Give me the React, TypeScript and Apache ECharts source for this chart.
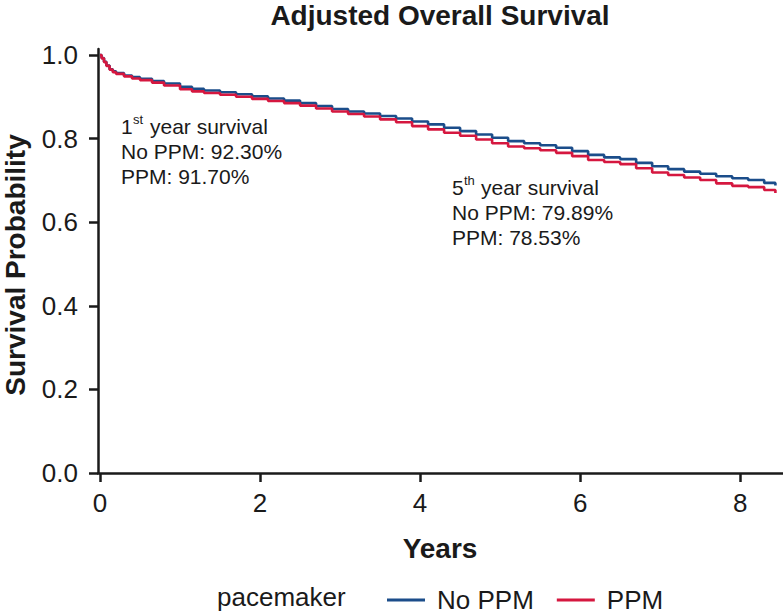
import React, { useEffect, useRef } from "react";
import * as echarts from "echarts";

const years = [0, 0.02, 0.05, 0.08, 0.12, 0.16, 0.2, 0.3, 0.4, 0.5, 0.65, 0.8, 1.0, 1.15, 1.3, 1.5, 1.7, 1.9, 2.1, 2.3, 2.5, 2.7, 2.9, 3.1, 3.3, 3.5, 3.7, 3.9, 4.1, 4.3, 4.5, 4.7, 4.9, 5.1, 5.3, 5.5, 5.7, 5.9, 6.1, 6.3, 6.5, 6.7, 6.9, 7.1, 7.3, 7.5, 7.7, 7.9, 8.1, 8.3, 8.44];

const noPPM = [1.0, 0.993, 0.984, 0.975, 0.966, 0.961, 0.957, 0.951, 0.947, 0.943, 0.938, 0.932, 0.924, 0.919, 0.915, 0.911, 0.906, 0.901, 0.896, 0.891, 0.885, 0.878, 0.871, 0.865, 0.86, 0.854, 0.848, 0.841, 0.834, 0.826, 0.818, 0.81, 0.802, 0.794, 0.789, 0.784, 0.778, 0.77, 0.761, 0.755, 0.751, 0.742, 0.734, 0.727, 0.721, 0.716, 0.71, 0.705, 0.701, 0.694, 0.688];

const ppm = [1.0, 0.992, 0.983, 0.974, 0.965, 0.959, 0.955, 0.949, 0.944, 0.94, 0.934, 0.927, 0.918, 0.913, 0.909, 0.905, 0.9, 0.895, 0.89, 0.885, 0.879, 0.872, 0.865, 0.859, 0.853, 0.846, 0.839, 0.83, 0.822, 0.814, 0.807, 0.798, 0.789, 0.781, 0.777, 0.772, 0.766, 0.758, 0.749, 0.744, 0.739, 0.729, 0.719, 0.713, 0.707, 0.701, 0.693, 0.687, 0.684, 0.677, 0.67];

const xTicks = [0, 2, 4, 6, 8];
const yTicks = [0, 0.2, 0.4, 0.6, 0.8, 1.0];
const seriesNames = ["No PPM", "PPM"];
const seriesColors = ["#1B4D8A", "#D5173F"];

const title = "Adjusted Overall Survival";
const xTitle = "Years";
const yTitle = "Survival Probability";
const legendTitle = "pacemaker";
const year1Lines = ["No PPM: 92.30%", "PPM: 91.70%"];
const year5Lines = ["No PPM: 79.89%", "PPM: 78.53%"];

const FONT = "Liberation Sans, Arial, Helvetica, sans-serif";
const INK = "#1a1a1a";

export default function App() {
  const ref = useRef<HTMLDivElement>(null);

  useEffect(() => {
    if (!ref.current) return;
    const chart = echarts.init(ref.current, null, { renderer: "svg" });

    const txt = (x: number, y: number, text: string, size: number, extra: any = {}) => ({
      type: "text",
      x,
      y,
      style: {
        text,
        font: `${extra.bold ? "bold " : ""}${size}px ${FONT}`,
        fill: INK,
        textAlign: extra.align || "left",
        textVerticalAlign: "middle",
      },
      rotation: extra.rotation || 0,
    });

    const block = (x: number, y: number, num: string, sup: string, lines: string[]) => [
      txt(x, y, num, 21),
      txt(x + 12, y - 7, sup, 13),
      txt(x + 29, y, "year survival", 21),
      txt(x, y + 25, lines[0], 21),
      txt(x, y + 50, lines[1], 21),
    ];

    chart.setOption({
      animation: false,
      textStyle: { fontFamily: FONT },
      grid: { left: 98, right: 0, top: 49, bottom: 141, containLabel: false },
      xAxis: {
        type: "value",
        min: -0.025,
        max: 8.535,
        axisLine: { onZero: false, lineStyle: { color: INK, width: 2.5 } },
        axisTick: { show: true, length: 9, lineStyle: { color: INK, width: 2.5 }, customValues: xTicks },
        axisLabel: { fontSize: 26, color: INK, margin: 17, fontFamily: FONT, customValues: xTicks },
        splitLine: { show: false },
      },
      yAxis: {
        type: "value",
        min: 0,
        max: 1.0144,
        axisLine: { show: true, onZero: false, lineStyle: { color: INK, width: 2.5 } },
        axisTick: { show: true, length: 9, lineStyle: { color: INK, width: 2.5 }, customValues: yTicks },
        axisLabel: {
          fontSize: 26,
          color: INK,
          margin: 20,
          fontFamily: FONT,
          customValues: yTicks,
          formatter: (v: number) => v.toFixed(1),
        },
        splitLine: { show: false },
      },
      legend: {
        data: seriesNames,
        left: 382,
        top: 582,
        icon: "rect",
        itemWidth: 38,
        itemHeight: 3,
        itemGap: 23,
        textStyle: { fontSize: 26, color: INK, fontFamily: FONT, padding: [0, 0, 0, 7] },
      },
      series: seriesNames.map((name, i) => ({
        name,
        type: "line",
        step: "end",
        showSymbol: false,
        symbol: "none",
        color: seriesColors[i],
        lineStyle: { width: 2.6, color: seriesColors[i] },
        data: years.map((t, k) => [t, (i === 0 ? noPPM : ppm)[k]]),
        z: 2 + i,
      })),
      graphic: [
        txt(440, 15, title, 28, { bold: true, align: "center" }),
        txt(440, 548, xTitle, 28, { bold: true, align: "center" }),
        {
          ...txt(15, 265, yTitle, 28, { bold: true, align: "center" }),
          rotation: Math.PI / 2,
        },
        txt(217, 597, legendTitle, 26),
        ...block(121, 126, "1", "st", year1Lines),
        ...block(452, 187, "5", "th", year5Lines),
      ],
    });

    return () => chart.dispose();
  }, []);

  return (
    <div
      ref={ref}
      style={{ position: "fixed", left: 0, top: 0, width: 783, height: 614, background: "#fff" }}
    />
  );
}
